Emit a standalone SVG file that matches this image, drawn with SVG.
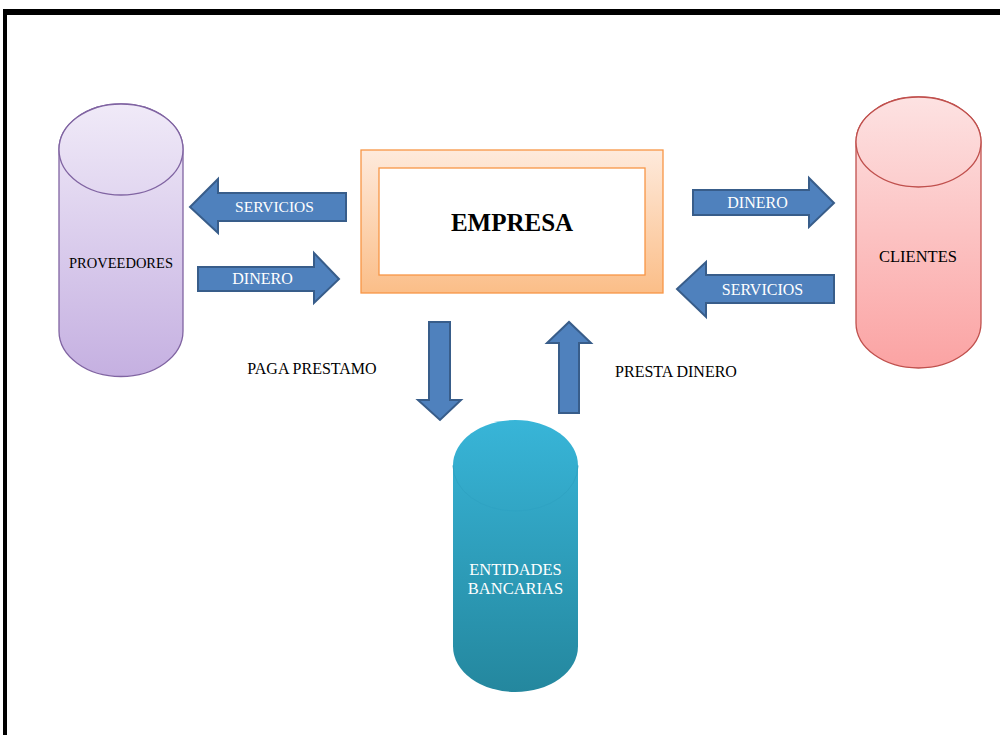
<svg xmlns="http://www.w3.org/2000/svg" width="1000" height="735" viewBox="0 0 1000 735">
  <defs>
    <linearGradient id="gProv" gradientUnits="userSpaceOnUse" x1="0" y1="104" x2="0" y2="376">
      <stop offset="0" stop-color="#F0EAF8"/>
      <stop offset="1" stop-color="#C5B0E1"/>
    </linearGradient>
    <linearGradient id="gCli" gradientUnits="userSpaceOnUse" x1="0" y1="97" x2="0" y2="368">
      <stop offset="0" stop-color="#FDE2E2"/>
      <stop offset="1" stop-color="#FBA3A3"/>
    </linearGradient>
    <linearGradient id="gBank" gradientUnits="userSpaceOnUse" x1="0" y1="420" x2="0" y2="692">
      <stop offset="0" stop-color="#38B5D8"/>
      <stop offset="1" stop-color="#24879E"/>
    </linearGradient>
    <linearGradient id="gEmp" gradientUnits="userSpaceOnUse" x1="0" y1="150" x2="0" y2="293">
      <stop offset="0" stop-color="#FEEADC"/>
      <stop offset="1" stop-color="#FBBE88"/>
    </linearGradient>
  </defs>
  <style>
    .arrow { fill: #4F81BD; stroke: #385D8A; stroke-width: 2; stroke-linejoin: miter; }
    .lbl { font-family: "Liberation Serif", "Times New Roman", serif; font-size: 16px; text-anchor: middle; }
    .white { fill: #FFFFFF; }
    .dark { fill: #000000; }
  </style>

  <!-- page frame -->
  <rect x="4" y="9" width="996" height="6" fill="#000"/>
  <rect x="3" y="9" width="4" height="726" fill="#000"/>

  <!-- PROVEEDORES -->
  <g id="proveedores">
    <path d="M59,149.5 V331 A62,45.5 0 0 0 183,331 V149.5 A62,45.5 0 0 0 59,149.5 Z" fill="url(#gProv)" stroke="#8064A2" stroke-width="1.3"/>
    <ellipse cx="121" cy="149.5" rx="62" ry="45.5" fill="url(#gProv)" stroke="#8064A2" stroke-width="1.3"/>
    <text class="lbl dark" x="121" y="268" style="font-size:14.5px">PROVEEDORES</text>
  </g>

  <!-- EMPRESA -->
  <g id="empresa">
    <rect x="361" y="150" width="302" height="143" fill="url(#gEmp)" stroke="#F79646" stroke-width="1.3"/>
    <rect x="379" y="168" width="266" height="107" fill="#FFFFFF" stroke="#F79646" stroke-width="1.3"/>
    <text x="512" y="231" font-family="Liberation Serif, Times New Roman, serif" font-size="25" font-weight="bold" text-anchor="middle" fill="#000">EMPRESA</text>
  </g>

  <!-- CLIENTES -->
  <g id="clientes">
    <path d="M856,142 V323 A62.5,45 0 0 0 981,323 V142 A62.5,45 0 0 0 856,142 Z" fill="url(#gCli)" stroke="#C0504D" stroke-width="1.3"/>
    <ellipse cx="918.5" cy="142" rx="62.5" ry="45" fill="url(#gCli)" stroke="#C0504D" stroke-width="1.3"/>
    <text class="lbl dark" x="918" y="262" style="font-size:16.5px">CLIENTES</text>
  </g>

  <!-- ENTIDADES BANCARIAS -->
  <g id="entidades">
    <path d="M453,465.5 V646.5 A62.5,45.5 0 0 0 578,646.5 V465.5 A62.5,45.5 0 0 0 453,465.5 Z" fill="url(#gBank)"/>
    <path d="M453,465.5 A62.5,45.5 0 0 0 578,465.5" fill="none" stroke="#2FA3C3" stroke-width="1"/>
    <text class="lbl white" x="515.5" y="575" style="font-size:16.5px">ENTIDADES</text>
    <text class="lbl white" x="515.5" y="594" style="font-size:16.5px">BANCARIAS</text>
  </g>

  <!-- flows -->
  <g id="connectors">
    <g id="servicios-prov">
      <polygon class="arrow" points="346,193 218,193 218,179 190,207 218,233 218,221 346,221"/>
      <text class="lbl white" x="274.5" y="212" style="font-size:15.5px">SERVICIOS</text>
    </g>
    <g id="dinero-prov">
      <polygon class="arrow" points="198,267 314,267 314,253 339,279 314,303 314,291 198,291"/>
      <text class="lbl white" x="262.5" y="284">DINERO</text>
    </g>
    <g id="dinero-cli">
      <polygon class="arrow" points="693,190 809,190 809,178 834,203 809,227 809,215 693,215"/>
      <text class="lbl white" x="757.5" y="208">DINERO</text>
    </g>
    <g id="servicios-cli">
      <polygon class="arrow" points="834,275 706,275 706,262 677,289 706,317 706,303 834,303"/>
      <text class="lbl white" x="762.5" y="295">SERVICIOS</text>
    </g>
    <g id="paga-prestamo">
      <polygon class="arrow" points="429,322 450,322 450,400 461,400 440,420 418,400 429,400"/>
      <text class="lbl dark" x="312" y="374">PAGA PRESTAMO</text>
    </g>
    <g id="presta-dinero">
      <polygon class="arrow" points="559,413 579,413 579,343 591,343 569,322 547,343 559,343"/>
      <text class="lbl dark" x="676" y="377">PRESTA DINERO</text>
    </g>
  </g>
</svg>
